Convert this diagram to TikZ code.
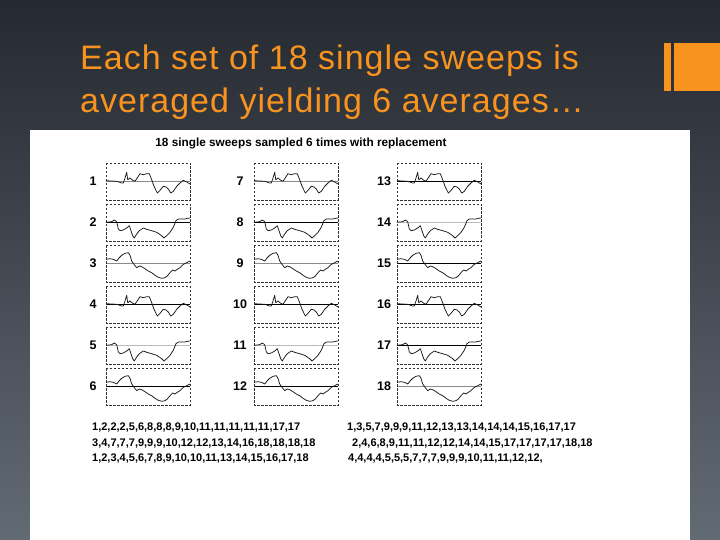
\documentclass[tikz,border=0pt]{standalone}
\usepackage{fontspec}
\setmainfont{Liberation Sans}
\newfontfamily\titlefont[LetterSpace=3]{Liberation Sans}
\usepackage{xcolor}
\usepackage{tikz}
\usetikzlibrary{calc}
\definecolor{slideT}{HTML}{252930}
\definecolor{slideM}{HTML}{2D323A}
\definecolor{slideB}{HTML}{626A74}
\definecolor{accent}{HTML}{F7931E}
\definecolor{lineG}{HTML}{8A8A8A}
\definecolor{lineL}{HTML}{BBBBBB}
\newcommand{\waveA}{(0,17.7) -- (10.7,18.3) -- (15.7,20) -- (17.3,20) -- (19,15) -- (20.7,9.3) -- (21.7,16.7) -- (24,15) -- (26.7,17.3) -- (29,18.3) -- (32.3,13.3) -- (34,10.7) -- (37.3,11.7) -- (40.7,10.7) -- (43.3,10.7) -- (45.7,16.7) -- (48,23.3) -- (51.3,30) -- (54,27.3) -- (57.3,23.3) -- (60,24) -- (62.3,26) -- (64.7,30) -- (67.3,28.3) -- (70.7,23.3) -- (74,20) -- (77.3,17.3) -- (81.3,19.3) -- (84,21)}
\newcommand{\waveB}{(0,18.3) -- (5.7,17.7) -- (8.3,16) -- (10.7,17.7) -- (12.3,25) -- (14,26.7) -- (17.3,26) -- (20.7,24) -- (23.3,21.7) -- (25,26.7) -- (26.7,31.7) -- (28.3,34) -- (30.7,30) -- (33.3,26.7) -- (37.3,24) -- (40.7,25.3) -- (45.7,26.7) -- (50.7,28.3) -- (55.7,31.7) -- (58,34) -- (60.7,31.7) -- (64,28.3) -- (67.3,23.3) -- (70,16.7) -- (72.3,15) -- (75.7,15) -- (79,15) -- (81.3,14.3) -- (84,14)}
\newcommand{\waveC}{(0,14.3) -- (4,13.7) -- (7.3,14.3) -- (10.7,16) -- (13.3,12.7) -- (15.7,10.3) -- (19,8.3) -- (22.3,7.7) -- (24,10.3) -- (25.7,16) -- (28,19.3) -- (30.7,22.7) -- (33.3,21) -- (35.7,21.7) -- (39,23.7) -- (42.3,26) -- (45.7,27.7) -- (49,30.3) -- (52.3,32.3) -- (55.7,33.3) -- (59,32.7) -- (61.3,31) -- (64,27.7) -- (66.7,25) -- (69,26) -- (71.3,24.3) -- (74,22.7) -- (77.3,19.3) -- (80.7,17.7) -- (84,16)}
\begin{document}
\begin{tikzpicture}[x=1pt, y=-1pt,
  sweepbox/.style={draw=black!80, line width=0.7pt, dash pattern=on 2.5pt off 1.5pt},
  trace/.style={black!90, line width=0.75pt, line join=round},
  zero/.style={line width=0.9pt},
  numlbl/.style={font=\bfseries\fontsize{12.5}{12.5}\selectfont, anchor=center},
  idxrow/.style={font=\bfseries\fontsize{11}{11}\selectfont, anchor=base west, inner sep=0pt}]
\useasboundingbox (0,0) rectangle (720,540);
\shade[top color=slideT, middle color=slideM, bottom color=slideB] (0,0) rectangle (720,540);
\fill[accent] (664,43) rectangle (671,91);
\fill[accent] (674,43) rectangle (720,91);
\node[font=\titlefont\fontsize{34}{34}\selectfont, text=accent, anchor=base west, inner sep=0pt] (title1) at (80,70) {Each set of 18 single sweeps is};
\node[font=\titlefont\fontsize{34}{34}\selectfont, text=accent, anchor=base west, inner sep=0pt] (title2) at (80,113) {averaged yielding 6 averages…};
\fill[white] (30,130) rectangle (690,540);
\node[font=\bfseries\fontsize{11.8}{12}\selectfont] (head) at (301,143) {18 single sweeps sampled 6 times with replacement};
\foreach \n/\w/\bl in {1/\waveA/lineG, 2/\waveB/black, 3/\waveC/lineG, 4/\waveA/black, 5/\waveB/lineL, 6/\waveC/black,
                       7/\waveA/lineG, 8/\waveB/black, 9/\waveC/lineG, 10/\waveA/black, 11/\waveB/lineL, 12/\waveC/black,
                       13/\waveA/black, 14/\waveB/lineL, 15/\waveC/black, 16/\waveA/black, 17/\waveB/black, 18/\waveC/lineG}{
  \pgfmathtruncatemacro\col{int((\n-1)/6)}
  \pgfmathtruncatemacro\row{mod(\n-1,6)}
  \pgfmathsetmacro\bx{{106,254,397}[\col]}
  \pgfmathsetmacro\lx{{93,240,384}[\col]}
  \pgfmathsetmacro\by{163+41*\row}
  \begin{scope}[shift={(\bx,\by)}]
    \draw[zero, \bl] (0,18) -- (84,18);
    \draw[trace] \w;
    \draw[sweepbox] (0,0) rectangle (84,37);
  \end{scope}
  \node[numlbl] (s\n) at (\lx,\by+18) {\n};
}
\node[idxrow] (avg1) at (92,430) {1,2,2,2,5,6,8,8,8,9,10,11,11,11,11,11,17,17};
\node[idxrow] (avg2) at (92,446) {3,4,7,7,7,9,9,9,10,12,12,13,14,16,18,18,18,18};
\node[idxrow] (avg3) at (92,461) {1,2,3,4,5,6,7,8,9,10,10,11,13,14,15,16,17,18};
\node[idxrow] (avg4) at (347,430) {1,3,5,7,9,9,9,11,12,13,13,14,14,14,15,16,17,17};
\node[idxrow] (avg5) at (352,446) {2,4,6,8,9,11,11,12,12,14,14,15,17,17,17,17,18,18};
\node[idxrow] (avg6) at (348,461) {4,4,4,4,5,5,5,7,7,7,9,9,9,10,11,11,12,12,};
\end{tikzpicture}
\end{document}
